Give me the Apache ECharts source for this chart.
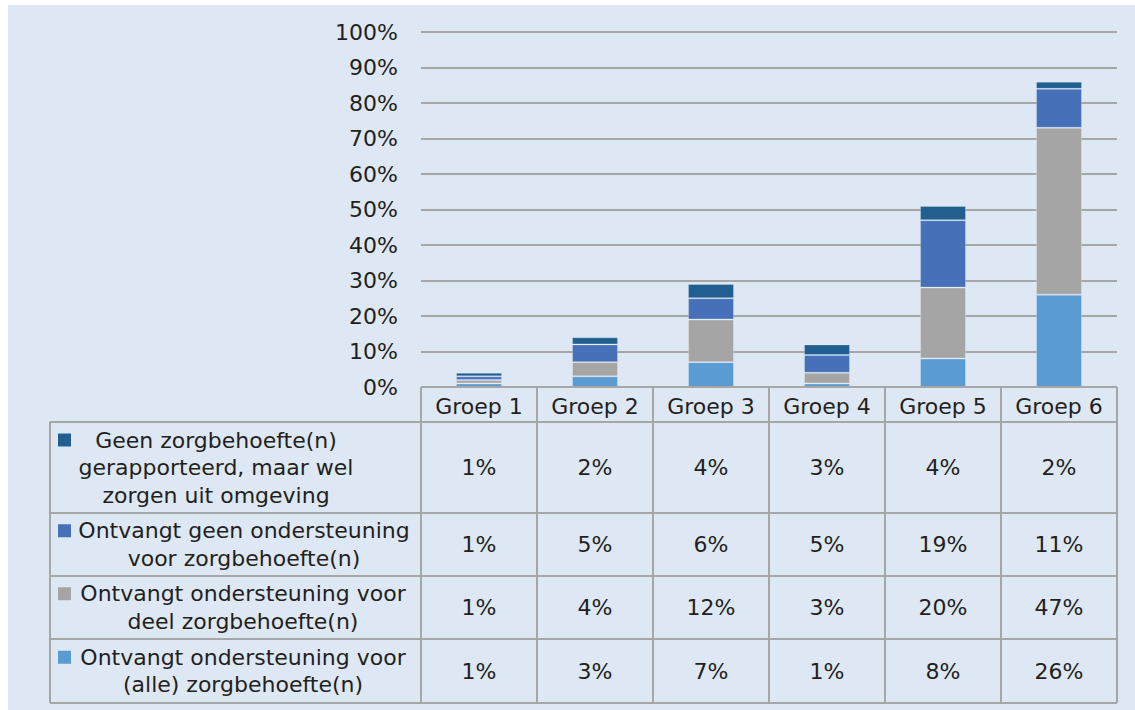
<!DOCTYPE html>
<html>
<head>
<meta charset="utf-8">
<script src="https://cdn.jsdelivr.net/npm/echarts@6/dist/echarts.min.js"></script>
<style>
  html, body { margin: 0; padding: 0; background: #ffffff; }
  #chart { width: 1135px; height: 710px; }
</style>
</head>
<body>
<div id="chart"></div>
<script>
const categories = ['Groep 1', 'Groep 2', 'Groep 3', 'Groep 4', 'Groep 5', 'Groep 6'];
const yTicks = [0, 10, 20, 30, 40, 50, 60, 70, 80, 90, 100];

// stacked bottom -> top
const alleValues = [1, 3, 7, 1, 8, 26];
const deelValues = [1, 4, 12, 3, 20, 47];
const geenValues = [1, 5, 6, 5, 19, 11];
const zorgenValues = [1, 2, 4, 3, 4, 2];

const alleLabel = ['Ontvangt ondersteuning voor', '(alle) zorgbehoefte(n)'];
const deelLabel = ['Ontvangt ondersteuning voor', 'deel zorgbehoefte(n)'];
const geenLabel = ['Ontvangt geen ondersteuning', 'voor zorgbehoefte(n)'];
const zorgenLabel = ['Geen zorgbehoefte(n)', 'gerapporteerd, maar wel', 'zorgen uit omgeving'];

const FONT = "'DejaVu Sans', Verdana, sans-serif";
const TEXT = '#231f20';
const LINE = '#a6a6a6';
const BG = '#dde8f4';

const GRID_LEFT = 421, GRID_RIGHT = 1117, GRID_TOP = 32, GRID_BOTTOM_Y = 387;
const TABLE_LEFT = 50;
const HEADER_BOTTOM = 422;

// table rows, top to bottom
const rows = [
  { name: zorgenLabel.join(' '), lines: zorgenLabel, values: zorgenValues, color: '#215f91', bottom: 513, textX: 216 },
  { name: geenLabel.join(' '), lines: geenLabel, values: geenValues, color: '#4670b8', bottom: 576, textX: 244 },
  { name: deelLabel.join(' '), lines: deelLabel, values: deelValues, color: '#a5a5a5', bottom: 639, textX: 243 },
  { name: alleLabel.join(' '), lines: alleLabel, values: alleValues, color: '#5b9bd3', bottom: 703, textX: 243 },
];

const chart = echarts.init(document.getElementById('chart'), null, { renderer: 'svg' });

// series in stacking order (bottom first)
const series = rows.slice().reverse().map(r => ({
  name: r.name,
  type: 'bar',
  stack: 'total',
  data: r.values,
  barWidth: 46,
  itemStyle: { color: r.color, borderColor: 'rgba(255,255,255,0.25)', borderWidth: 1 },
}));

chart.setOption({
  backgroundColor: '#ffffff',
  animation: false,
  grid: { left: GRID_LEFT, right: 1135 - GRID_RIGHT, top: GRID_TOP, bottom: 710 - GRID_BOTTOM_Y },
  xAxis: {
    type: 'category',
    data: categories,
    axisLine: { show: false },
    axisTick: { show: false },
    axisLabel: { fontFamily: FONT, fontSize: 22, color: TEXT, margin: 8 },
  },
  yAxis: {
    type: 'value',
    min: yTicks[0],
    max: yTicks[yTicks.length - 1],
    interval: yTicks[1] - yTicks[0],
    axisLine: { show: false },
    axisTick: { show: false },
    axisLabel: { fontFamily: FONT, fontSize: 22, color: TEXT, margin: 23, formatter: '{value}%' },
    splitLine: { lineStyle: { color: LINE, width: 2 } },
  },
  series,
});

// build data table underneath the plot
const colX = categories.map((_, i) => chart.convertToPixel({ xAxisIndex: 0 }, i));
const colW = (GRID_RIGHT - GRID_LEFT) / categories.length;
const graphics = [
  { type: 'rect', z: -10, silent: true, shape: { x: 8, y: 5, width: 1135 - 8, height: 710 - 5 }, style: { fill: BG } },
];
const lineEl = (x1, y1, x2, y2) => ({
  type: 'line', z: 5, silent: true,
  shape: { x1, y1, x2, y2 },
  style: { stroke: LINE, lineWidth: 2 },
});

const tableBottom = rows[rows.length - 1].bottom;
graphics.push(lineEl(GRID_LEFT, GRID_BOTTOM_Y, GRID_RIGHT, GRID_BOTTOM_Y));
graphics.push(lineEl(TABLE_LEFT, HEADER_BOTTOM, GRID_RIGHT, HEADER_BOTTOM));
graphics.push(lineEl(TABLE_LEFT, HEADER_BOTTOM, TABLE_LEFT, tableBottom));
for (let k = 0; k <= categories.length; k++) {
  const x = GRID_LEFT + k * colW;
  graphics.push(lineEl(x, GRID_BOTTOM_Y, x, tableBottom));
}

let rowTop = HEADER_BOTTOM;
rows.forEach(r => {
  graphics.push(lineEl(TABLE_LEFT, r.bottom, GRID_RIGHT, r.bottom));
  const h = r.bottom - rowTop;
  const lh = 27.5;
  const blockTop = rowTop + (h - lh * r.lines.length) / 2;
  graphics.push({
    type: 'rect', silent: true,
    shape: { x: 58, y: blockTop + lh / 2 - 6.5, width: 13, height: 13 },
    style: { fill: r.color },
  });
  r.lines.forEach((ln, j) => {
    graphics.push({
      type: 'text', silent: true,
      x: r.textX, y: blockTop + lh * j + lh / 2,
      style: { text: ln, fill: TEXT, font: `22px ${FONT}`, align: 'center', verticalAlign: 'middle' },
    });
  });
  r.values.forEach((v, i) => {
    graphics.push({
      type: 'text', silent: true,
      x: colX[i], y: rowTop + h / 2,
      style: { text: v + '%', fill: TEXT, font: `22px ${FONT}`, align: 'center', verticalAlign: 'middle' },
    });
  });
  rowTop = r.bottom;
});

chart.setOption({ graphic: graphics });
</script>
</body>
</html>
